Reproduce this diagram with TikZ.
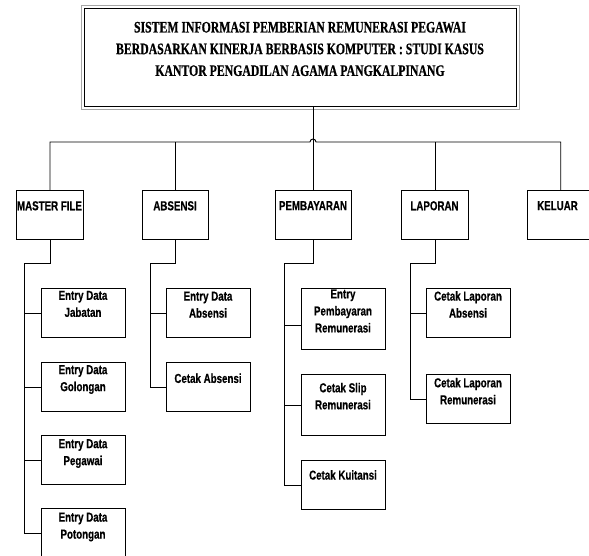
\documentclass[tikz,border=0pt]{standalone}
\usepackage{fontspec}
\newfontfamily\arn{Liberation Sans}[FakeStretch=0.75, BoldFeatures={FakeBold=0.6}]
\newfontfamily\tms{Liberation Serif}[FakeStretch=0.735, BoldFeatures={FakeBold=0.6}]
\tikzset{
  box/.style={draw, line width=0.9pt, inner sep=0pt, anchor=north west, minimum width=84pt, minimum height=49pt},
  topbox/.style={box, minimum width=67pt},
  lbl/.style={font=\arn\bfseries\fontsize{13}{17}\selectfont, align=center, inner sep=0pt, anchor=north},
  ttl/.style={font=\tms\bfseries\fontsize{16}{21.7}\selectfont, align=center, inner sep=0pt, anchor=north},
  conn/.style={line width=0.9pt},
}
\begin{document}
\begin{tikzpicture}[x=1pt,y=-1pt]
\useasboundingbox (0,0) rectangle (589,556);
% title
\node[draw, line width=1pt, inner sep=0pt, anchor=north west, minimum width=431.7pt, minimum height=97.7pt] (title) at (84.3,8.3) {};
\draw[gray!70, line width=1.4pt] ([shift={(-2.6,-2.6)}]title.north west) rectangle ([shift={(2.2,2.4)}]title.south east);
\node[ttl] (ttltext) at (300,21.7) {SISTEM INFORMASI PEMBERIAN REMUNERASI PEGAWAI\\BERDASARKAN KINERJA BERBASIS KOMPUTER : STUDI KASUS\\KANTOR PENGADILAN AGAMA PANGKALPINANG};
% top level
\node[topbox] (mf) at (16,190) {};
\node[topbox, minimum width=66pt] (abs) at (142,190) {};
\node[topbox, minimum width=76pt] (pem) at (275,190) {};
\node[topbox] (lap) at (401,190) {};
\node[topbox, minimum width=61.5pt] (kel) at (527,190) {};
\node[lbl] (tmf) at (49.5,201) {MASTER FILE};
\node[lbl] (tabs) at (175,201) {ABSENSI};
\node[lbl] (tpem) at (313,201) {PEMBAYARAN};
\node[lbl] (tlap) at (434.5,201) {LAPORAN};
\node[lbl] (tkel) at (557.5,201) {KELUAR};
% bus
\coordinate (bus) at (313,142);
\draw[conn] (mf.north) |- ([xshift=-3pt]bus) arc[start angle=180, end angle=0, radius=3pt] -| ([xshift=2.5pt]kel.north);
\draw[conn] (abs.north) -- (abs.north |- bus);
\draw[conn] (lap.north) -- (lap.north |- bus);
\draw[conn] (title.south -| pem.north) -- (pem.north);
% MASTER FILE children
\node[box] (m1) at (41,288) {};
\node[box] (m2) at (41,362) {};
\node[box] (m3) at (41,435) {};
\node[box] (m4) at (41,508) {};
\node[lbl] (tm1) at (83,290.7) {Entry Data\\Jabatan};
\node[lbl] (tm2) at (83,365) {Entry Data\\Golongan};
\node[lbl] (tm3) at (83,439) {Entry Data\\Pegawai};
\node[lbl] (tm4) at (83,512.5) {Entry Data\\Potongan};
\coordinate (mt) at (24,263);
\draw[conn] (mf.south) |- (mt) -- (mt |- m4.west) -- (m4.west);
\foreach \c in {m1,m2,m3} \draw[conn] (mt |- \c.west) -- (\c.west);
% ABSENSI children
\node[box] (a1) at (166,288) {};
\node[box] (a2) at (166,362) {};
\node[lbl] (ta1) at (208,291.5) {Entry Data\\Absensi};
\node[lbl] (ta2) at (208,373.3) {Cetak Absensi};
\coordinate (at) at (150,263);
\draw[conn] (abs.south) |- (at) -- (at |- a2.west) -- (a2.west);
\draw[conn] (at |- a1.west) -- (a1.west);
% PEMBAYARAN children
\node[box, minimum height=61pt] (p1) at (301,288.3) {};
\node[box, minimum height=61pt] (p2) at (301,374.3) {};
\node[box] (p3) at (301,460) {};
\node[lbl] (tp1) at (343,289.3) {Entry\\Pembayaran\\Remunerasi};
\node[lbl] (tp2) at (343,382.7) {Cetak Slip\\Remunerasi};
\node[lbl] (tp3) at (343,470) {Cetak Kuitansi};
\coordinate (pt) at (284,263);
\coordinate (p1c) at ([yshift=-6.2pt]p1.west);
\draw[conn] (pem.south) |- (pt) -- (pt |- p3.west) -- (p3.west);
\draw[conn] (pt |- p1c) -- (p1c);
\draw[conn] (pt |- p2.west) -- (p2.west);
% LAPORAN children
\node[box] (l1) at (426,288) {};
\node[box] (l2) at (426,374) {};
\node[lbl] (tl1) at (468,291) {Cetak Laporan\\Absensi};
\node[lbl] (tl2) at (468,377.7) {Cetak Laporan\\Remunerasi};
\coordinate (lt) at (410,263);
\draw[conn] (lap.south) |- (lt) -- (lt |- l2.west) -- (l2.west);
\draw[conn] (lt |- l1.west) -- (l1.west);
\end{tikzpicture}
\end{document}
